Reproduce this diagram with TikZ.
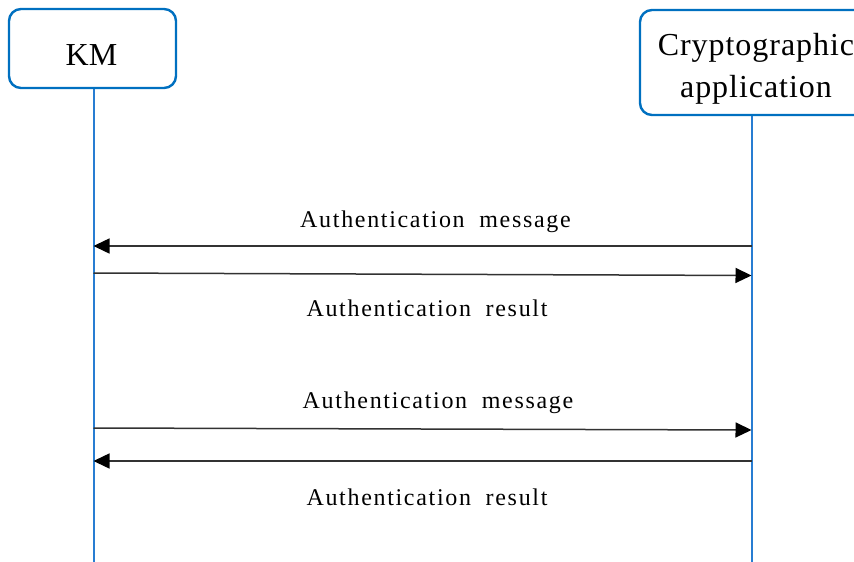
\documentclass[tikz,border=0pt]{standalone}
\usepackage{fontspec}
\setmainfont{Liberation Serif}
\newfontfamily\msgfont[LetterSpace=7]{Liberation Serif}
\newfontfamily\boxfont[LetterSpace=3]{Liberation Serif}
\usetikzlibrary{arrows.meta}
\definecolor{boxblue}{RGB}{0,112,192}
\definecolor{lifeblue}{RGB}{40,125,210}
\definecolor{msggray}{RGB}{50,50,50}
\tikzset{
  actor/.style={draw=boxblue, line width=2.4pt, rounded corners=12pt, fill=white},
  lifeline/.style={draw=lifeblue, line width=2pt},
  msg/.style={draw=msggray, line width=1.5pt, -{Triangle[length=16pt,width=15pt,black]}},
  msglabel/.style={anchor=base, inner sep=0pt, text=black, font=\msgfont\fontsize{24}{28}\selectfont},
  actorlabel/.style={inner sep=0pt, font=\boxfont\fontsize{32}{42}\selectfont, align=center}
}
\begin{document}
\begin{tikzpicture}[x=1pt,y=-1pt]
  \useasboundingbox (0,0) rectangle (854,562);
  \clip (0,0) rectangle (854,562);
  \fill[white] (0,0) rectangle (854,562);

  % lifelines
  \coordinate (kmtop) at (93.5,88);
  \coordinate (kmbot) at (93.5,562);
  \coordinate (catop) at (751.5,115);
  \coordinate (cabot) at (751.5,562);
  \draw[lifeline] (kmtop) -- (kmbot);
  \draw[lifeline] (catop) -- (cabot);

  % participants
  \draw[actor] (9,9) rectangle (176,88);
  \node[inner sep=0pt, anchor=base, font=\fontsize{32}{38}\selectfont] (km) at (91.5,65) {KM};
  \draw[actor] (640,10) rectangle (872,115);
  \node[actorlabel, anchor=base] (ca1) at (756,55) {Cryptographic};
  \node[actorlabel, anchor=base] (ca2) at (756,97) {application};

  % message end points on the lifelines
  \coordinate (m1s) at (751.5,246);
  \coordinate (m1e) at (93.5,246);
  \coordinate (m2s) at (93.5,273);
  \coordinate (m2e) at (751.5,275.5);
  \coordinate (m3s) at (93.5,428);
  \coordinate (m3e) at (751.5,430);
  \coordinate (m4s) at (751.5,461);
  \coordinate (m4e) at (93.5,461);

  % messages
  \draw[msg] (m1s) -- (m1e);
  \draw[msg] (m2s) -- (m2e);
  \draw[msg] (m3s) -- (m3e);
  \draw[msg] (m4s) -- (m4e);

  % message labels
  \node[msglabel] (l1) at (435.5,227) {Authentication\hspace{7pt} message};
  \node[msglabel] (l2) at (427,316) {Authentication\hspace{7pt} result};
  \node[msglabel] (l3) at (438,408) {Authentication\hspace{7pt} message};
  \node[msglabel] (l4) at (427,505) {Authentication\hspace{7pt} result};
\end{tikzpicture}
\end{document}
